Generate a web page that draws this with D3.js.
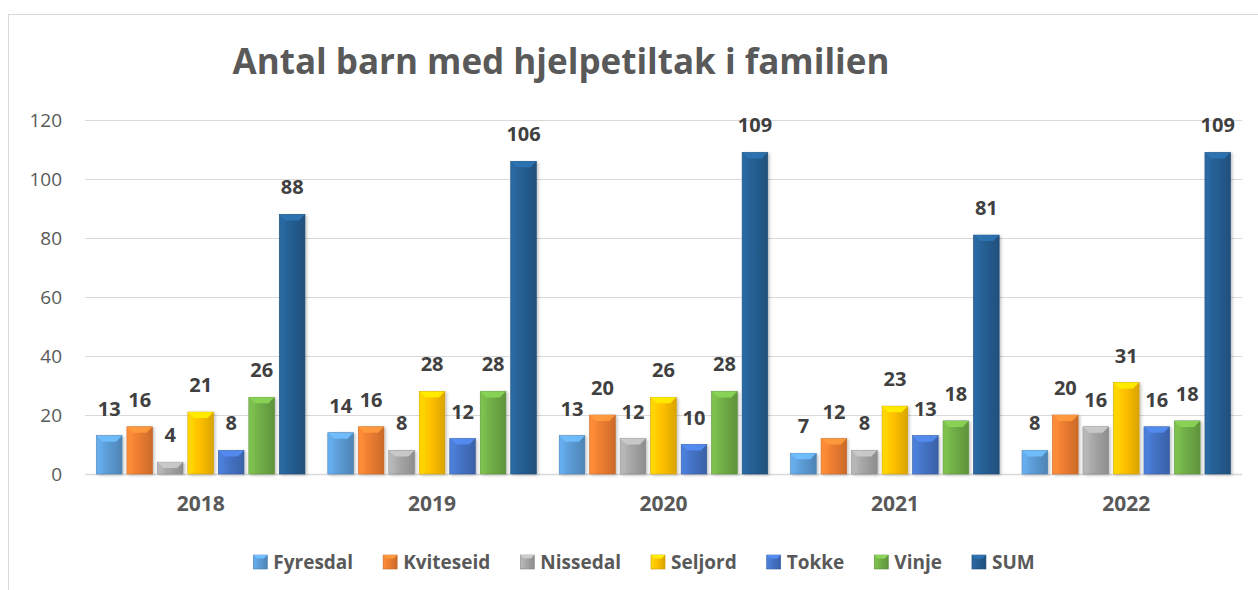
<!DOCTYPE html>
<html>
<head>
<meta charset="utf-8">
<script src="https://cdn.jsdelivr.net/npm/d3@7"></script>
<style>
  body { margin: 0; background: #fff; }
  svg { display: block; font-family: "Open Sans", sans-serif; }
</style>
</head>
<body>
<div id="chart"></div>
<script>
const years = ['2018', '2019', '2020', '2021', '2022'];
const series = ['Fyresdal', 'Kviteseid', 'Nissedal', 'Seljord', 'Tokke', 'Vinje', 'SUM'];
const fyresdal = [13, 14, 13, 7, 8];
const kviteseid = [16, 16, 20, 12, 20];
const nissedal = [4, 8, 12, 8, 16];
const seljord = [21, 28, 26, 23, 31];
const tokke = [8, 12, 10, 13, 16];
const vinje = [26, 28, 28, 18, 18];
const sum = [88, 106, 109, 81, 109];
const yTicks = [0, 20, 40, 60, 80, 100, 120];
const colors = ['#5b9bd5', '#ed7d31', '#a5a5a5', '#ffc000', '#4472c4', '#70ad47', '#255e91'];

const values = [fyresdal, kviteseid, nissedal, seljord, tokke, vinje, sum];
const data = years.map((yr, i) => ({
    year: yr,
    items: series.map((s, j) => ({ key: s, value: values[j][i], color: colors[j] }))
}));

function createChart(selector) {
    const width = 1258, height = 590;
    const margin = { top: 120, right: 16, bottom: 116, left: 85 };
    const innerW = width - margin.left - margin.right;
    const innerH = height - margin.top - margin.bottom;

    d3.select(selector).selectAll('*').remove();

    const svg = d3.select(selector).append('svg')
        .attr('width', width)
        .attr('height', height);

    const defs = svg.append('defs');
    colors.forEach((c, i) => {
        const g = defs.append('linearGradient')
            .attr('id', 'grad' + i)
            .attr('x1', 0).attr('x2', 1).attr('y1', 0).attr('y2', 0);
        g.append('stop').attr('offset', '0%').attr('stop-color', d3.color(c).brighter(0.35));
        g.append('stop').attr('offset', '45%').attr('stop-color', c);
        g.append('stop').attr('offset', '100%').attr('stop-color', d3.color(c).darker(0.45));
    });
    const shadow = defs.append('filter').attr('id', 'shadow')
        .attr('x', '-20%').attr('y', '-5%').attr('width', '150%').attr('height', '120%');
    shadow.append('feDropShadow')
        .attr('dx', 1.5).attr('dy', 1).attr('stdDeviation', 1.5)
        .attr('flood-color', '#000').attr('flood-opacity', 0.25);

    // outer border of the chart area
    svg.append('rect')
        .attr('x', 8.5).attr('y', 14.5)
        .attr('width', width + 10).attr('height', height + 10)
        .attr('fill', 'none')
        .attr('stroke', '#d9d9d9');

    const g = svg.append('g')
        .attr('transform', `translate(${margin.left},${margin.top})`);

    const x0 = d3.scaleBand()
        .domain(years)
        .range([0, innerW])
        .padding(0);

    const x1 = d3.scaleBand()
        .domain(series)
        .range([0, x0.bandwidth()])
        .paddingInner(0.16)
        .paddingOuter(0.375);

    const y = d3.scaleLinear()
        .domain([0, 120])
        .range([innerH, 0]);

    // gridlines
    g.append('g')
        .selectAll('line')
        .data(yTicks)
        .enter().append('line')
        .attr('x1', 0).attr('x2', innerW)
        .attr('y1', d => Math.round(y(d)) + 0.5)
        .attr('y2', d => Math.round(y(d)) + 0.5)
        .attr('stroke', '#d9d9d9')
        .attr('stroke-width', d => d === 0 ? 1.5 : 1);

    // y axis labels
    const yAxis = g.append('g')
        .call(d3.axisLeft(y).tickValues(yTicks).tickSize(0).tickPadding(23));
    yAxis.select('.domain').remove();
    yAxis.selectAll('text')
        .attr('fill', '#595959')
        .style('font-size', '19px')
        .style('font-family', '"Open Sans", sans-serif');

    // x axis labels
    const xAxis = g.append('g')
        .attr('transform', `translate(0,${innerH})`)
        .call(d3.axisBottom(x0).tickSize(0).tickPadding(22));
    xAxis.select('.domain').remove();
    xAxis.selectAll('text')
        .attr('fill', '#595959')
        .style('font-size', '21px')
        .style('font-weight', 'bold')
        .style('font-family', '"Open Sans", sans-serif');

    const groups = g.selectAll('.year')
        .data(data)
        .enter().append('g')
        .attr('class', 'year')
        .attr('transform', d => `translate(${x0(d.year)},0)`);

    const bars = groups.selectAll('.bar')
        .data(d => d.items)
        .enter().append('g')
        .attr('class', 'bar');

    const bw = x1.bandwidth();
    bars.append('rect')
        .attr('x', d => x1(d.key))
        .attr('y', d => y(d.value))
        .attr('width', bw)
        .attr('height', d => innerH - y(d.value))
        .attr('fill', (d, i) => `url(#grad${i})`)
        .attr('stroke', (d) => d3.color(d.color).darker(0.6))
        .attr('stroke-width', 0.6)
        .attr('filter', 'url(#shadow)');

    // bevel on the top of each bar
    const bev = 6;
    bars.append('path')
        .attr('d', d => {
            const l = x1(d.key), r = l + bw, t = y(d.value);
            const h = Math.min(bev, (innerH - t) / 2);
            return `M${l},${t}L${r},${t}L${r - h},${t + h}L${l + h},${t + h}Z`;
        })
        .attr('fill', d => d3.color(d.color).brighter(0.6))
        .attr('opacity', 0.9);
    bars.append('path')
        .attr('d', d => {
            const l = x1(d.key), r = l + bw, t = y(d.value);
            const h = Math.min(bev, (innerH - t) / 2);
            return `M${l},${t}L${l + h},${t + h}L${l + h},${innerH}L${l},${innerH}Z`;
        })
        .attr('fill', d => d3.color(d.color).brighter(0.3))
        .attr('opacity', 0.5);

    // value labels
    bars.append('text')
        .attr('x', d => x1(d.key) + bw / 2)
        .attr('y', d => y(d.value) - 20)
        .attr('text-anchor', 'middle')
        .attr('fill', '#404040')
        .style('font-size', '20px')
        .style('font-weight', 'bold')
        .text(d => d.value);

    // title
    svg.append('text')
        .attr('x', 561)
        .attr('y', 74)
        .attr('text-anchor', 'middle')
        .attr('fill', '#595959')
        .style('font-size', '35px')
        .style('font-weight', 'bold')
        .text('Antal barn med hjelpetiltak i familien');

    // legend
    const legend = svg.append('g').attr('class', 'legend');
    let cx = 0;
    series.forEach((s, i) => {
        const item = legend.append('g').attr('transform', `translate(${cx},0)`);
        item.append('rect')
            .attr('x', 0).attr('y', -7)
            .attr('width', 14).attr('height', 14)
            .attr('fill', `url(#grad${i})`)
            .attr('stroke', d3.color(colors[i]).darker(0.6))
            .attr('stroke-width', 0.6);
        item.append('path')
            .attr('d', 'M0,-7L14,-7L10.5,-3.5L3.5,-3.5Z')
            .attr('fill', d3.color(colors[i]).brighter(0.6));
        const t = item.append('text')
            .attr('x', 20)
            .attr('y', 0)
            .attr('dy', '0.35em')
            .attr('fill', '#595959')
            .style('font-size', '19px')
            .style('font-weight', 'bold')
            .text(s);
        cx += 20 + t.node().getComputedTextLength() + 30;
    });
    const legendW = cx - 30;
    legend.attr('transform', `translate(${644 - legendW / 2},562)`);
}

createChart('#chart');
</script>
</body>
</html>
